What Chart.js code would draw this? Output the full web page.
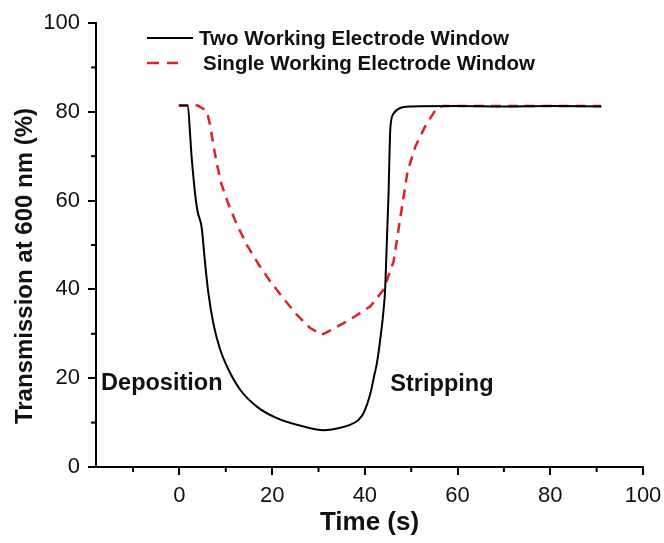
<!DOCTYPE html>
<html>
<head>
<meta charset="utf-8">
<script src="https://cdn.jsdelivr.net/npm/chart.js@4.4.0/dist/chart.umd.min.js"></script>
<style>
  body { margin: 0; background: #fff; }
  #grafico { display: block; }
</style>
</head>
<body>
<canvas id="grafico" width="664" height="543"></canvas>
<script>
//Datos
const timeTwo = [0, 1.7, 2.7, 3.4, 3.9, 4.8, 5.5, 6.2, 7.3, 8.8, 10.6, 13.1, 16.7, 21.0, 26.8, 31.1, 34.5, 36.8, 38.5, 39.7, 41.2, 42.0, 42.6, 43.3, 44.0, 44.4, 45.1, 45.5, 46.2, 47.5, 50, 60, 70, 80, 91];
const transTwo = [81.4, 81.4, 68.9, 61.3, 57.6, 53.9, 46.3, 39.5, 32.4, 26.4, 21.9, 17.4, 13.6, 11.0, 9.1, 8.3, 8.8, 9.5, 10.5, 12.1, 16.6, 20.5, 23.4, 28.6, 35.0, 40.5, 61.3, 76.4, 79.6, 80.8, 81.2, 81.3, 81.2, 81.3, 81.2];

const timeSingle = [-0.2, 4.0, 5.9, 6.6, 7.3, 8.1, 9.1, 10.6, 12.4, 14.5, 17.1, 19.6, 22.4, 25.3, 28.2, 30.7, 33.0, 36.8, 41.2, 44.0, 46.2, 47.3, 48.3, 49.2, 50.9, 53.0, 55.6, 57, 70, 80, 91];
const transSingle = [81.4, 81.4, 80.2, 77.1, 72.6, 68.1, 63.6, 59.1, 54.6, 50.1, 45.6, 41.8, 38.0, 34.3, 31.3, 29.8, 31.0, 33.2, 36.2, 39.9, 46.3, 53.8, 60.5, 66.5, 72.2, 76.7, 81.0, 81.3, 81.3, 81.3, 81.3];

const xTicks = [-10, 0, 10, 20, 30, 40, 50, 60, 70, 80, 90, 100];
const yTicks = [0, 10, 20, 30, 40, 50, 60, 70, 80, 90, 100];

const labelTwo = 'Two Working Electrode Window';
const labelSingle = 'Single Working Electrode Window';
const notas = [
  { text: 'Deposition', x: -16.9, y: 18.9 },
  { text: 'Stripping', x: 45.5, y: 18.5 }
];

const rojo = '#e41e26';
const fuente = '"Liberation Sans", Arial, sans-serif';

function puntos(xs, ys) {
  return xs.map((x, i) => ({ x: x, y: ys[i] }));
}

//Ticks menores, leyenda, titulo Y y notas
const extras = {
  id: 'extras',
  afterDraw(chart) {
    const ctx = chart.ctx;
    const xs = chart.scales.x;
    const ys = chart.scales.y;
    const area = chart.chartArea;
    ctx.save();
    ctx.strokeStyle = '#000';
    ctx.lineWidth = 2;
    xTicks.filter(v => v % 20 !== 0).forEach(v => {
      const px = xs.getPixelForValue(v);
      ctx.beginPath();
      ctx.moveTo(px, area.bottom);
      ctx.lineTo(px, area.bottom + 5);
      ctx.stroke();
    });
    yTicks.filter(v => v % 20 !== 0).forEach(v => {
      const py = ys.getPixelForValue(v);
      ctx.beginPath();
      ctx.moveTo(area.left, py);
      ctx.lineTo(area.left - 5, py);
      ctx.stroke();
    });

    //leyenda
    ctx.fillStyle = '#111';
    ctx.font = 'bold 20.5px ' + fuente;
    ctx.textBaseline = 'middle';
    ctx.textAlign = 'left';
    ctx.beginPath();
    ctx.moveTo(147, 38);
    ctx.lineTo(193, 38);
    ctx.stroke();
    ctx.fillText(labelTwo, 199, 39);
    ctx.strokeStyle = rojo;
    ctx.lineWidth = 2.5;
    ctx.setLineDash([12, 8]);
    ctx.beginPath();
    ctx.moveTo(147, 63);
    ctx.lineTo(178, 63);
    ctx.stroke();
    ctx.setLineDash([]);
    ctx.fillText(labelSingle, 203, 64);

    //notas
    ctx.font = 'bold 23.5px ' + fuente;
    notas.forEach(n => {
      ctx.fillText(n.text, xs.getPixelForValue(n.x), ys.getPixelForValue(n.y));
    });

    //titulo eje Y
    ctx.translate(25, 266);
    ctx.rotate(-Math.PI / 2);
    ctx.textAlign = 'center';
    ctx.font = 'bold 24px ' + fuente;
    ctx.fillText('Transmission at 600 nm (%)', 0, 0);
    ctx.restore();
  }
};

const cdx = document.getElementById('grafico');
new Chart(cdx, {
  type: 'line',
  data: {
    datasets: [
      {
        label: labelTwo,
        data: puntos(timeTwo, transTwo),
        borderColor: '#000',
        borderWidth: 2,
        pointRadius: 0,
        cubicInterpolationMode: 'monotone'
      },
      {
        label: labelSingle,
        data: puntos(timeSingle, transSingle),
        borderColor: rojo,
        borderWidth: 2.5,
        borderDash: [10, 7],
        pointRadius: 0,
        tension: 0
      }
    ]
  },
  options: {
    responsive: false,
    animation: false,
    devicePixelRatio: 1,
    layout: { padding: { left: 0, right: 21, top: 23, bottom: 0 } },
    plugins: {
      legend: { display: false },
      tooltip: { enabled: false }
    },
    scales: {
      x: {
        type: 'linear',
        min: -18,
        max: 100,
        afterBuildTicks: s => { s.ticks = xTicks.map(v => ({ value: v })); },
        afterFit: s => { s.height = 76; s.paddingLeft = 0; s.paddingRight = 0; },
        border: { color: '#000', width: 2 },
        grid: {
          drawOnChartArea: false,
          tickLength: 8,
          lineWidth: 2,
          tickWidth: 2,
          tickColor: c => (c.tick && c.tick.value % 20 === 0) ? '#000' : 'rgba(0,0,0,0)'
        },
        ticks: {
          padding: 8,
          color: '#111',
          font: { family: fuente, size: 22 },
          maxRotation: 0,
          autoSkip: false,
          callback: v => v % 20 === 0 ? v : ''
        },
        title: {
          display: true,
          text: 'Time (s)',
          color: '#111',
          font: { family: fuente, size: 26, weight: 'bold' },
          padding: { top: 0, bottom: 5 }
        }
      },
      y: {
        min: 0,
        max: 100,
        afterBuildTicks: s => { s.ticks = yTicks.map(v => ({ value: v })); },
        afterFit: s => { s.width = 96; },
        border: { color: '#000', width: 2 },
        grid: {
          drawOnChartArea: false,
          tickLength: 8,
          lineWidth: 2,
          tickWidth: 2,
          tickColor: c => (c.tick && c.tick.value % 20 === 0) ? '#000' : 'rgba(0,0,0,0)'
        },
        ticks: {
          padding: 8,
          color: '#111',
          font: { family: fuente, size: 22 },
          autoSkip: false,
          callback: v => v % 20 === 0 ? v : ''
        }
      }
    }
  },
  plugins: [extras]
});
</script>
</body>
</html>
